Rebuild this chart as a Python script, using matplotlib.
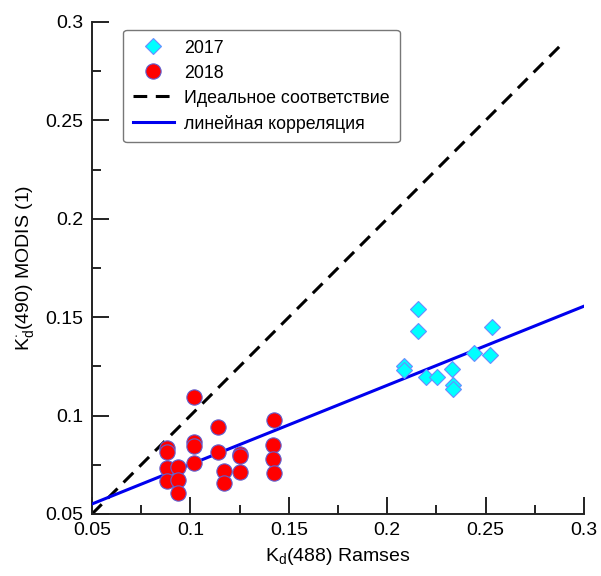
import numpy as np
import matplotlib
matplotlib.use('Agg')
import matplotlib.pyplot as plt
from matplotlib.ticker import MultipleLocator

plt.rcParams['font.family'] = ['Liberation Sans', 'DejaVu Sans']
plt.rcParams['mathtext.fontset'] = 'custom'
plt.rcParams['mathtext.rm'] = 'Liberation Sans'

# данные 2017 (ромбы)
x2017 = [0.2155, 0.2155, 0.2534, 0.2085, 0.2085, 0.2196, 0.2255, 0.2328, 0.2336, 0.2336, 0.2443, 0.2522]
y2017 = [0.1540, 0.1430, 0.1452, 0.1252, 0.1232, 0.1198, 0.1195, 0.1235, 0.1155, 0.1134, 0.1320, 0.1308]

# данные 2018 (круги)
x2018 = [0.0883, 0.0883, 0.0883, 0.0883, 0.0939, 0.0939, 0.0939, 0.1020, 0.1020, 0.1020, 0.1020,
         0.1139, 0.1139, 0.1171, 0.1171, 0.1252, 0.1252, 0.1252, 0.1427, 0.1418, 0.1418, 0.1427]
y2018 = [0.0834, 0.0813, 0.0732, 0.0668, 0.0740, 0.0673, 0.0605, 0.1096, 0.0867, 0.0847, 0.0758,
         0.0944, 0.0813, 0.0718, 0.0659, 0.0805, 0.0795, 0.0712, 0.0978, 0.0851, 0.0779, 0.0707]

# идеальное соответствие и линейная регрессия
ideal_x = [0.05, 0.29]
fit_x = [0.05, 0.30]
fit_slope = 0.402
fit_icpt = 0.0350

fig = plt.figure(figsize=(6.01, 5.76), dpi=100)
ax = fig.add_axes([92 / 601, 1 - 514 / 576, 492 / 601, 492 / 576])

ax.plot(ideal_x, ideal_x, color='black', lw=2.2, ls=(0, (4.5, 2.8)),
        label='Идеальное соответствие', zorder=2)
fx = np.array(fit_x)
ax.plot(fx, fit_slope * fx + fit_icpt, color='#0000ee', lw=2.2,
        label='линейная корреляция', zorder=3)
ax.plot(x2017, y2017, 'D', ms=8, mfc='#00ffff', mec='#6a8cff', mew=0.8,
        ls='none', label='2017', zorder=4)
ax.plot(x2018, y2018, 'o', ms=11, mfc='#ff0000', mec='#6060d0', mew=0.8,
        ls='none', label='2018', zorder=4)

ax.set_xlim(0.05, 0.3)
ax.set_ylim(0.05, 0.3)
for s in ['top', 'right']:
    ax.spines[s].set_visible(False)
for s in ['left', 'bottom']:
    ax.spines[s].set_linewidth(1.4)
    ax.spines[s].set_color('#222222')

ax.xaxis.set_major_locator(MultipleLocator(0.05))
ax.xaxis.set_minor_locator(MultipleLocator(0.025))
ax.yaxis.set_major_locator(MultipleLocator(0.05))
ax.yaxis.set_minor_locator(MultipleLocator(0.025))
fmt = lambda v, p: ('%g' % round(v, 3))
ax.xaxis.set_major_formatter(plt.FuncFormatter(fmt))
ax.yaxis.set_major_formatter(plt.FuncFormatter(fmt))
ax.tick_params(which='major', direction='in', length=12.5, width=1.4,
               color='#222222', labelsize=14, pad=6)
ax.tick_params(which='minor', direction='in', length=6.5, width=1.4, color='#222222')

ax.set_xlabel(r'K$_\mathregular{d}$(488) Ramses', fontsize=14, labelpad=5)
ax.set_ylabel(r'K$_\mathregular{d}^{\cdot}$(490) MODIS (1)', fontsize=14, labelpad=6)

h, l = ax.get_legend_handles_labels()
order = [2, 3, 0, 1]
leg = ax.legend([h[i] for i in order], [l[i] for i in order], loc='upper left',
                bbox_to_anchor=(0.063, 0.984), borderaxespad=0, fontsize=12.8,
                frameon=True, fancybox=True, edgecolor='#777777', framealpha=1,
                handlelength=2.3, handletextpad=0.6, labelspacing=0.45,
                borderpad=0.55)
leg.get_frame().set_linewidth(1.0)

fig.savefig('out.png', dpi=100)
